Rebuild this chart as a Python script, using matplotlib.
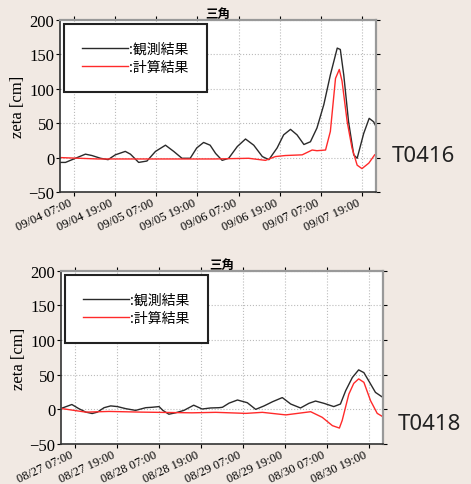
import matplotlib
matplotlib.use("Agg")
import matplotlib.pyplot as plt
import matplotlib.dates as mdates
import pandas as pd

# hours from start (03:00 on the first day), values in cm
t0416_start = "2004-09-04 03:00"
t0416_obs_h = [0.2, 1.6, 4, 7.4, 9.3, 11.8, 14.0, 16.1, 19.0, 20.5, 22.9, 25.3, 27.8,
               30.7, 33.1, 35.5, 37.9, 39.8, 41.8, 43.7, 45.3, 47.2, 49.1, 51.6, 54.0,
               56.4, 58.9, 60.8, 63.2, 65.1, 67.1, 69.0, 71.0, 72.9, 74.8, 76.8, 78.7,
               80.7, 81.6, 82.6, 84.0, 85.5, 86.5, 88.4, 90.0, 91.3, 92.3]
t0416_obs = [-7, -7, -2, 5, 3, -1, -3, 4, 9, 5, -7, -5, 9,
             18, 9, -1, -1, 14, 22, 18, 6, -4, -1, 16, 27,
             18, 1.5, -3, 14, 33, 41, 33, 19, 23, 43, 77, 120,
             159, 157, 120, 52, 4, -1, 35, 57, 52, 42]
t0416_calc_h = [0.2, 11, 30, 45, 54.9, 59.8, 62.7, 65.6, 70.5, 73.4, 74.8, 77.3, 78.7,
                80.2, 81.3, 82.1, 83.6, 85.0, 86.5, 87.9, 89.9, 91.6]
t0416_calc = [0, -2, -2, -2, -1, -4, 1.5, 3, 4, 11, 10, 11, 38,
              115, 128, 111, 52, 14, -11, -16, -8, 4]

t0418_start = "2004-08-27 03:00"
t0418_obs_h = [0.4, 3.1, 5.1, 7.1, 8.9, 10.4, 12.3, 14.2, 16.1, 18.5, 21.3, 24.2, 26.0,
               28.0, 29.1, 30.8, 32.7, 35.1, 37.9, 40.3, 42.7, 45.1, 46.1, 48.0, 50.4,
               53.2, 55.6, 58.0, 60.4, 63.2, 65.6, 68.4, 70.8, 72.7, 75.1, 77.9, 79.8,
               81.3, 83.2, 85.0, 86.5, 87.9, 89.8, 91.7, 92.6]
t0418_obs = [2, 7, 1, -4, -6, -4, 2.4, 5, 4, 1, -1.5, 2.4, 3,
             4, -1.5, -7, -5, -1.5, 6, 0.5, 2, 2.4, 3, 9, 13.5,
             9.6, 0, 5, 11, 17, 7.7, 2, 8.7, 12, 8.7, 4, 7.7,
             27, 46, 57, 53, 41, 24.5, 18, 18]
t0418_calc_h = [0.4, 7.1, 13.7, 23.1, 37.4, 44.2, 52.8, 57.5, 64.2, 71.3, 74.6, 77.5,
                79.5, 80.3, 82.2, 83.6, 85.0, 86.5, 88.4, 90.3, 92.2]
t0418_calc = [1, -4, -3, -4, -5, -4.3, -5.8, -4.3, -8, -3.4, -11.5, -23.5,
              -27, -16, 22, 37.5, 44, 39, 12.5, -5.8, -11.5]

yticks = [-50, 0, 50, 100, 150, 200]
bg = "#f1e9e3"
serif = "Liberation Serif"
cjk = ["Noto Sans CJK JP", "DejaVu Sans"]


def to_times(start, hours):
    return pd.Timestamp(start) + pd.to_timedelta(hours, unit="h")


def draw_panel(ax, start, obs_h, obs, calc_h, calc):
    ax.plot(to_times(start, obs_h), obs, color="#2a2a2a", lw=1.0, label=":観測結果")
    ax.plot(to_times(start, calc_h), calc, color="#ff2a2a", lw=1.0, label=":計算結果")
    s = pd.Timestamp(start)
    ax.set_xlim(s, s + pd.Timedelta(hours=92))
    ax.set_ylim(-50, 200)
    ax.set_yticks(yticks)
    ax.xaxis.set_major_locator(mdates.HourLocator(byhour=[7, 19]))
    ax.xaxis.set_major_formatter(mdates.DateFormatter("%m/%d %H:%M"))
    for lab in ax.get_xticklabels():
        lab.set_fontfamily(serif)
        lab.set_fontsize(9)
        lab.set_rotation(25)
        lab.set_ha("right")
    for lab in ax.get_yticklabels():
        lab.set_fontfamily(serif)
        lab.set_fontsize(12)
    ax.set_ylabel("zeta [cm]", fontfamily=serif, fontsize=12, labelpad=2)
    ax.set_title("三角", fontfamily=cjk, fontsize=9, fontweight="bold", pad=2)
    ax.grid(True, color="#bbbbbb", linestyle=":", linewidth=0.8)
    ax.tick_params(top=True, right=True, direction="out", length=3, pad=1)
    ax.tick_params(axis="x", pad=0)
    for side in ("left", "bottom"):
        ax.spines[side].set_color("#333333")
        ax.spines[side].set_linewidth(1.2)
    for side in ("top", "right"):
        ax.spines[side].set_color("#999999")
        ax.spines[side].set_linewidth(1.6)
    leg = ax.legend(loc="upper left", bbox_to_anchor=(0.0, 1.0), fancybox=False,
                    prop={"family": cjk, "size": 10}, handlelength=3.3,
                    handletextpad=0.1, borderpad=1.3, labelspacing=0.3,
                    borderaxespad=0.3, framealpha=1)
    leg.get_frame().set_edgecolor("#222222")
    leg.get_frame().set_linewidth(1.5)


fig = plt.figure(figsize=(4.71, 4.85), dpi=100, facecolor=bg)
ax1 = fig.add_axes([0.1274, 0.602, 0.671, 0.355])
ax2 = fig.add_axes([0.1295, 0.0825, 0.684, 0.357])

draw_panel(ax1, t0416_start, t0416_obs_h, t0416_obs, t0416_calc_h, t0416_calc)
draw_panel(ax2, t0418_start, t0418_obs_h, t0418_obs, t0418_calc_h, t0418_calc)

fig.text(392 / 471, 1 - 157 / 485, "T0416", fontfamily="Noto Sans", fontsize=16,
         va="center", ha="left", color="#222222")
fig.text(398 / 471, 1 - 425 / 485, "T0418", fontfamily="Noto Sans", fontsize=16,
         va="center", ha="left", color="#222222")

fig.savefig("out.png", dpi=100, facecolor=bg)
